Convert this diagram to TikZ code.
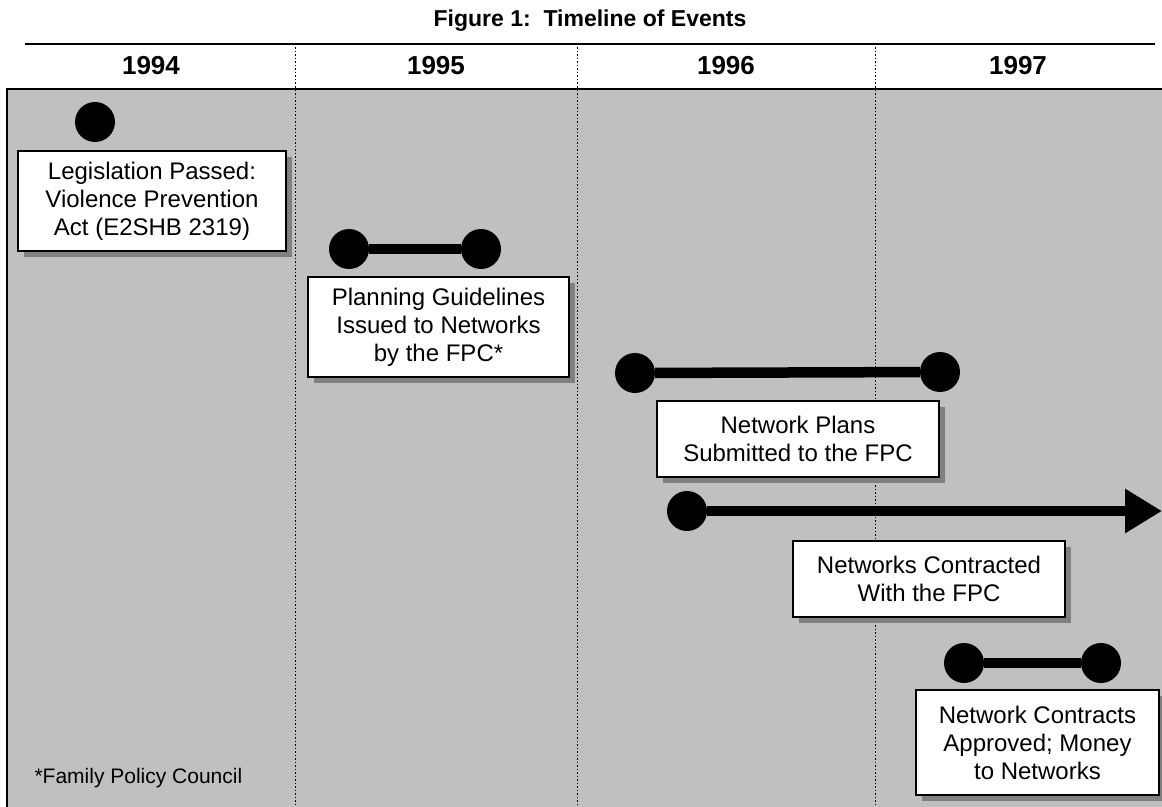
\documentclass[tikz,border=0pt]{standalone}
\usepackage{fontspec}
\setmainfont{Liberation Sans}
\usetikzlibrary{shadows,arrows.meta}
\definecolor{panelgray}{HTML}{C0C0C0}
\definecolor{shadowgray}{HTML}{808080}
\tikzset{
  eventbox/.style={draw=black, line width=2bp, fill=white, align=center, inner sep=0pt,
    font=\fontsize{24bp}{28bp}\selectfont,
    drop shadow={shadow xshift=6bp, shadow yshift=-6bp, fill=shadowgray, opacity=1}},
  milestone/.style={circle, fill=black, minimum size=40bp, inner sep=0pt},
  span/.style={line width=10.5bp},
  yearlabel/.style={font=\bfseries\fontsize{26bp}{28bp}\selectfont},
  divider/.style={line width=1bp, dash pattern=on 1.5bp off 2bp},
  rule/.style={line width=2.5bp}
}
\begin{document}
\begin{tikzpicture}[x=1bp,y=-1bp]
\useasboundingbox (0,0) rectangle (1162,807);
% panel
\fill[panelgray] (7,89) rectangle (1162,807);
\draw[divider] (295,44) -- (295,807);
\draw[divider] (577,44) -- (577,807);
\draw[divider] (875,44) -- (875,807);
\draw[rule] (7,807) -- (7,89) -- (1162,89);
\draw[rule] (25,44) -- (1155,44);
% title and years
\node[font=\bfseries\fontsize{23bp}{26bp}\selectfont] (title) at (590,21) {Figure 1:\ \ Timeline of Events};
\node[yearlabel] (y94) at (151,66) {1994};
\node[yearlabel] (y95) at (436,66) {1995};
\node[yearlabel] (y96) at (726,66) {1996};
\node[yearlabel] (y97) at (1018,66) {1997};
% event 1
\node[milestone] (d1) at (95,122) {};
\node[eventbox, minimum width=268bp, minimum height=100bp] (b1) at (152,201)
  {Legislation Passed:\\Violence Prevention\\Act (E2SHB 2319)};
% event 2
\node[milestone] (d2a) at (349,249) {};
\node[milestone] (d2b) at (481,249) {};
\draw[span] (d2a) -- (d2b);
\node[eventbox, minimum width=261bp, minimum height=100bp] (b2) at (438.5,327)
  {Planning Guidelines\\Issued to Networks\\by the FPC*};
% event 3
\node[milestone] (d3a) at (635,373) {};
\node[milestone] (d3b) at (940,372) {};
\draw[span] (d3a) -- (d3b);
\node[eventbox, minimum width=282bp, minimum height=76bp] (b3) at (798,439)
  {Network Plans\\Submitted to the FPC};
% event 4
\node[milestone] (d4) at (687,511) {};
\coordinate (arrowend) at (1162,511);
\draw[span, -{Triangle[length=37bp,width=42bp]}] (d4) -- (arrowend);
\node[eventbox, minimum width=272bp, minimum height=76bp] (b4) at (929,579)
  {Networks Contracted\\With the FPC};
% event 5
\node[milestone] (d5a) at (964,663) {};
\node[milestone] (d5b) at (1101,663) {};
\draw[span] (d5a) -- (d5b);
\node[eventbox, minimum width=243bp, minimum height=105bp] (b5) at (1037.5,742.5)
  {Network Contracts\\Approved; Money\\to Networks};
% footnote
\node[anchor=west, font=\fontsize{21bp}{24bp}\selectfont] (foot) at (31,778) {*Family Policy Council};
\end{tikzpicture}
\end{document}
